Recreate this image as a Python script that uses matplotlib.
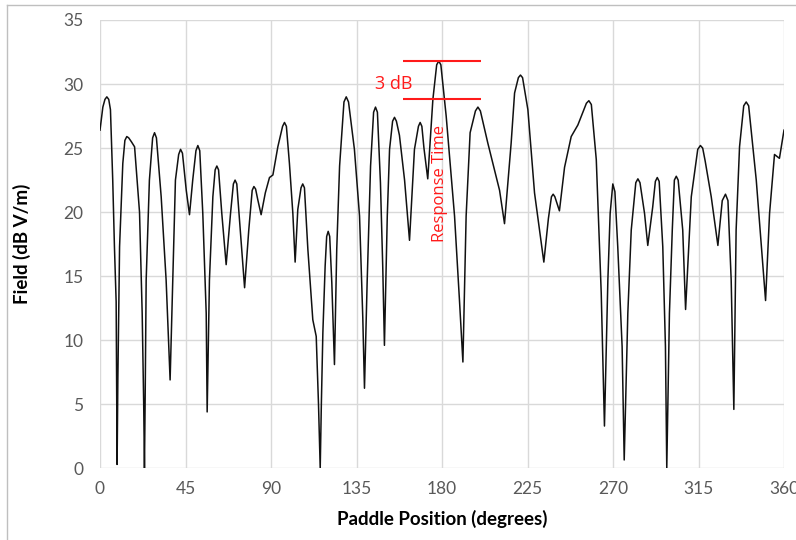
import matplotlib
matplotlib.use("Agg")
import matplotlib.pyplot as plt
from matplotlib.lines import Line2D

# paddle position (degrees) and field (dB V/m)
position = [0, 1.5, 2.6, 3.6, 4.6, 5.5, 6.7, 7.6, 8.5, 9.0, 9.4, 10.3, 12.0, 13.1, 14.1, 15.1,
            16.5, 18.2, 20.8, 22.2, 23.0, 23.4, 23.8, 24.3, 26.0, 27.7, 28.7, 29.7, 32.2, 34.8,
            36.9, 38.3, 39.7, 41.4, 42.4, 43.4, 45.4, 47.1, 48.8, 50.5, 51.5, 52.5, 54.1, 55.9,
            56.4, 57.6, 59.4, 60.6, 61.5, 62.4, 64.1, 66.4, 68.7, 70.2, 71.1, 72.0, 73.8, 76.1,
            78.3, 80.1, 81.0, 81.9, 83.0, 84.8, 87.0, 89.2, 91.0, 93.6, 96.1, 97.1, 98.1, 99.7,
            101.5, 102.7, 104.1, 105.8, 106.7, 107.6, 109.4, 112.0, 113.8, 115.0, 115.9, 116.5,
            117.3, 118.5, 119.3, 120.1, 120.9, 122.0, 123.4, 124.6, 126.1, 128.4, 129.6, 130.8,
            133.9, 136.6, 138.3, 139.2, 140.6, 142.4, 144.0, 145.0, 146.0, 147.6, 148.8, 149.7,
            151.2, 152.4, 154.0, 155.0, 156.0, 157.6, 160.3, 162.9, 165.5, 167.6, 168.5, 169.4,
            170.5, 172.5, 175.2, 177.2, 178.3, 179.4, 182.2, 186.6, 189.2, 191.0, 192.7, 194.8,
            197.6, 198.9, 200.2, 204.1, 210.3, 212.9, 216.4, 218.2, 220.2, 221.3, 222.4, 225.2,
            228.7, 233.6, 236.0, 237.6, 238.5, 239.4, 241.8, 244.5, 248.0, 251.5, 256.0, 257.3,
            258.6, 261.2, 263.8, 265.5, 267.3, 268.5, 269.9, 271.0, 272.5, 274.8, 275.9, 277.8,
            279.6, 282.0, 283.1, 284.2, 286.6, 288.3, 290.9, 292.3, 293.3, 294.3, 296.2, 297.6,
            298.3, 299.7, 301.2, 302.3, 303.3, 304.3, 306.7, 308.2, 311.2, 314.6, 316.0, 317.2,
            318.5, 321.7, 325.2, 327.5, 329.2, 330.5, 332.2, 333.6, 334.8, 336.6, 338.8, 340.1,
            341.4, 345.4, 348.8, 350.3, 352.4, 355.0, 357.6, 360.0]
field = [26.4, 28.2, 28.8, 29.0, 28.8, 28.0, 22.5, 17.3, 13.0, 0.3, 7.0, 17.3, 23.8, 25.6, 25.9, 25.8,
         25.5, 25.1, 20.0, 12.1, 5.0, 0.0, 6.0, 14.7, 22.5, 25.8, 26.2, 25.8, 21.2, 14.7,
         6.9, 14.7, 22.5, 24.5, 24.9, 24.6, 21.7, 19.8, 22.5, 24.8, 25.2, 24.8, 19.9, 12.1,
         4.4, 14.7, 21.2, 23.3, 23.6, 23.3, 19.9, 15.9, 19.9, 22.2, 22.5, 22.2, 18.6, 14.1,
         18.6, 21.7, 22.0, 21.8, 21.0, 19.8, 21.5, 22.7, 22.9, 25.1, 26.7, 27.0, 26.7, 23.8,
         19.9, 16.1, 20.2, 21.9, 22.2, 21.9, 17.1, 11.6, 10.3, 5.0, 0.0, 5.0,
         10.6, 15.8, 18.1, 18.5, 18.1, 14.5, 8.1, 17.1, 23.6, 28.6, 29.0, 28.6,
         24.9, 19.7, 11.8, 6.25, 14.5, 23.6, 27.8, 28.2, 27.8, 22.3, 15.8, 9.6,
         19.7, 24.9, 27.1, 27.4, 27.1, 26.0, 22.5, 17.8, 24.9, 26.7, 27.0, 26.7,
         25.0, 22.6, 28.8, 31.5, 31.8, 31.5, 27.5, 19.7, 13.1, 8.3, 19.7, 26.2,
         27.9, 28.2, 27.9, 25.4, 21.7, 19.1, 25.4, 29.3, 30.5, 30.7, 30.5, 28.0,
         21.5, 16.1, 19.5, 21.2, 21.4, 21.2, 20.1, 23.5, 25.9, 26.8, 28.5, 28.7,
         28.4, 24.1, 13.7, 3.3, 14.7, 19.9, 22.2, 21.6, 17.3, 9.5, 0.65, 12.1,
         18.6, 22.3, 22.6, 22.3, 19.9, 17.4, 20.4, 22.4, 22.7, 22.4, 17.3, 9.5,
         0.0, 12.1, 18.6, 22.5, 22.8, 22.5, 18.6, 12.4, 21.2, 24.9, 25.2, 25.0,
         24.0, 21.2, 17.4, 20.9, 21.4, 20.9, 14.7, 4.6, 18.6, 25.1, 28.3, 28.6,
         28.3, 22.5, 16.0, 13.1, 19.9, 24.5, 24.2, 26.4]

xticks = [0, 45, 90, 135, 180, 225, 270, 315, 360]
yticks = [0, 5, 10, 15, 20, 25, 30, 35]

# 3 dB window drawn on the chart
db_top = 31.8
db_bottom = 28.8
db_from = 159.7
db_to = 200.6

fig = plt.figure(figsize=(7.96, 5.40), dpi=100)
ax = fig.add_axes([100/796, 1 - 468.3/540, 684/796, 448.3/540])

ax.plot(position, field, color="#111111", linewidth=1.1)

ax.hlines([db_top, db_bottom], db_from, db_to, color="#ff1a1a", linewidth=1.5)
ax.text(154.5, 30.0, "3 dB", color="#ff1a1a", fontsize=13, family="Open Sans",
        ha="center", va="center")
ax.text(178.8, 22.2, "Response Time", color="#ff1a1a", fontsize=12, family="Open Sans",
        rotation=90, ha="center", va="center")

ax.set_xlim(0, 360)
ax.set_ylim(0, 35)
ax.set_xticks(xticks)
ax.set_yticks(yticks)
ax.grid(True, color="#d9d9d9", linewidth=1)
ax.set_axisbelow(True)
for s in ax.spines.values():
    s.set_visible(False)
ax.tick_params(length=0, labelcolor="#595959", labelsize=12.5)
ax.tick_params(axis="y", pad=12)
ax.tick_params(axis="x", pad=9)
for lab in ax.get_xticklabels() + ax.get_yticklabels():
    lab.set_family("Lato")

fig.text(22/796, 1 - 244/540, "Field (dB V/m)", rotation=90, fontsize=13.5, fontweight="bold",
         family="Lato", ha="center", va="center")
fig.text(442/796, 1 - 519/540, "Paddle Position (degrees)", fontsize=13.5, fontweight="bold",
         family="Lato", ha="center", va="center")

# outer chart frame (cut off at right and bottom)
fig.add_artist(Line2D([7/796, 7/796], [0, 1 - 5/540], color="#bfbfbf", linewidth=1))
fig.add_artist(Line2D([7/796, 1], [1 - 5/540, 1 - 5/540], color="#bfbfbf", linewidth=1))

fig.savefig("out.png", dpi=100)
